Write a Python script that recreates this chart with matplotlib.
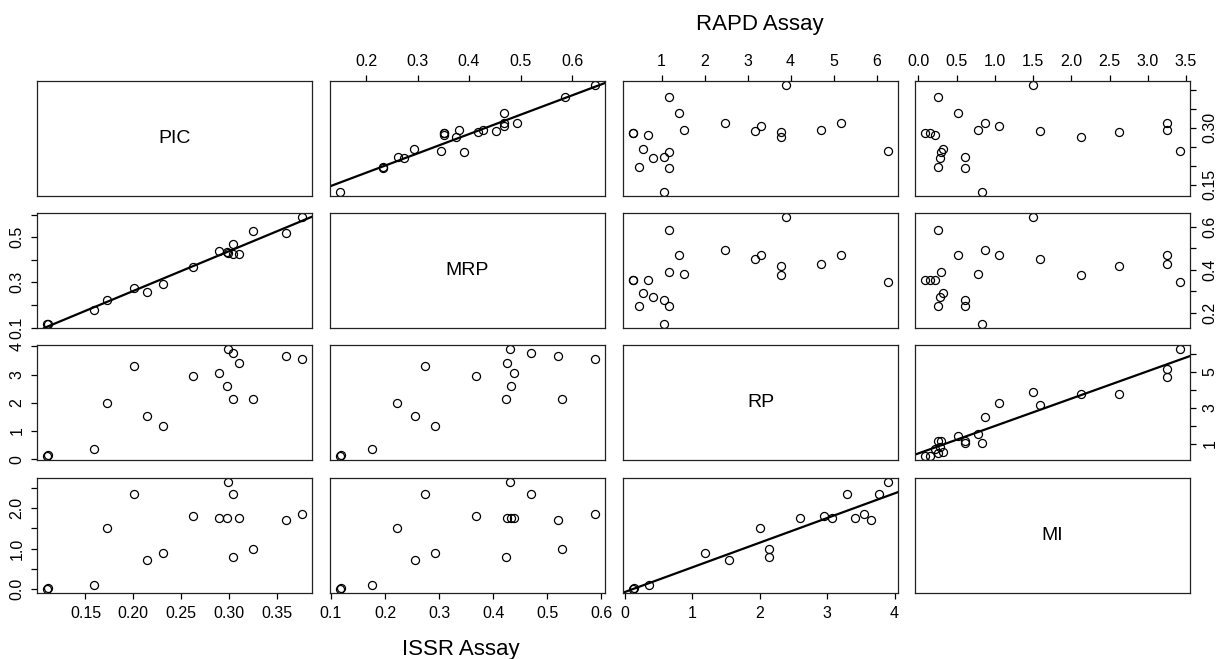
import numpy as np
import matplotlib
matplotlib.use('Agg')
import matplotlib.pyplot as plt

plt.rcParams['font.family'] = ['Liberation Sans', 'DejaVu Sans']

variables = ['PIC', 'MRP', 'RP', 'MI']

# ISSR assay, lower panels (17 primers)
issr_pic = [0.110, 0.111, 0.159, 0.172, 0.201, 0.214, 0.231, 0.262, 0.290,
            0.298, 0.299, 0.304, 0.304, 0.310, 0.325, 0.359, 0.376]
issr_mrp = [0.117, 0.118, 0.176, 0.222, 0.274, 0.256, 0.293, 0.368, 0.438,
            0.433, 0.432, 0.470, 0.424, 0.426, 0.528, 0.520, 0.588]
issr_rp = [0.12, 0.13, 0.36, 2.00, 3.30, 1.54, 1.19, 2.95, 3.07,
           2.59, 3.90, 3.77, 2.13, 3.42, 2.13, 3.65, 3.55]
issr_mi = [0.01, 0.02, 0.09, 1.51, 2.35, 0.72, 0.89, 1.81, 1.74,
           1.74, 2.63, 2.35, 0.80, 1.76, 1.00, 1.69, 1.86]

# RAPD assay, upper panels (22 primers)
rapd_pic = [0.413, 0.381, 0.339, 0.314, 0.314, 0.304, 0.294, 0.294, 0.291, 0.289, 0.286,
            0.286, 0.281, 0.276, 0.238, 0.243, 0.236, 0.221, 0.222, 0.196, 0.193, 0.131]
rapd_mrp = [0.644, 0.586, 0.468, 0.493, 0.468, 0.468, 0.381, 0.427, 0.452, 0.417, 0.351,
            0.351, 0.351, 0.374, 0.345, 0.293, 0.390, 0.273, 0.262, 0.233, 0.233, 0.150]
rapd_rp = [3.89, 1.17, 1.41, 2.47, 5.16, 3.30, 1.53, 4.71, 3.17, 3.77, 0.34,
           0.34, 0.69, 3.77, 6.26, 0.565, 1.17, 0.81, 1.05, 0.47, 1.17, 1.05]
rapd_mi = [1.50, 0.254, 0.511, 0.877, 3.25, 1.06, 0.777, 3.25, 1.593, 2.62, 0.088,
           0.145, 0.215, 2.13, 3.42, 0.323, 0.293, 0.276, 0.611, 0.254, 0.611, 0.834]

issr = {'PIC': issr_pic, 'MRP': issr_mrp, 'RP': issr_rp, 'MI': issr_mi}
rapd = {'PIC': rapd_pic, 'MRP': rapd_mrp, 'RP': rapd_rp, 'MI': rapd_mi}

# axis ticks (values, labels)
issr_bottom = {
    'PIC': ([0.15, 0.20, 0.25, 0.30, 0.35], ['0.15', '0.20', '0.25', '0.30', '0.35']),
    'MRP': ([0.1, 0.2, 0.3, 0.4, 0.5, 0.6], ['0.1', '0.2', '0.3', '0.4', '0.5', '0.6']),
    'RP': ([0, 1, 2, 3, 4], ['0', '1', '2', '3', '4']),
}
issr_left = {
    'MRP': ([0.1, 0.2, 0.3, 0.4, 0.5, 0.6], ['0.1', '', '0.3', '', '0.5', '']),
    'RP': ([0, 1, 2, 3, 4], ['0', '1', '2', '3', '4']),
    'MI': ([0.0, 0.5, 1.0, 1.5, 2.0, 2.5], ['0.0', '', '1.0', '', '2.0', '']),
}
rapd_top = {
    'MRP': ([0.2, 0.3, 0.4, 0.5, 0.6], ['0.2', '0.3', '0.4', '0.5', '0.6']),
    'RP': ([1, 2, 3, 4, 5, 6], ['1', '2', '3', '4', '5', '6']),
    'MI': ([0.0, 0.5, 1.0, 1.5, 2.0, 2.5, 3.0, 3.5],
           ['0.0', '0.5', '1.0', '1.5', '2.0', '2.5', '3.0', '3.5']),
}
rapd_right = {
    'PIC': ([0.15, 0.20, 0.25, 0.30, 0.35, 0.40], ['0.15', '', '', '0.30', '', '']),
    'MRP': ([0.2, 0.3, 0.4, 0.5, 0.6], ['0.2', '', '0.4', '', '0.6']),
    'RP': ([1, 2, 3, 4, 5, 6], ['1', '', '3', '', '5', '']),
}

# panels with a fitted line
fit_lower = [(1, 0), (3, 2)]
fit_upper = [(0, 1), (2, 3)]


def ext(v):
    lo, hi = min(v), max(v)
    d = 0.04 * (hi - lo)
    return lo - d, hi + d


W, H = 1220, 659
col_x = [37, 330, 623, 915]
col_w = 275
row_y = [81, 213, 345, 478]
row_h = 115

fig = plt.figure(figsize=(12.2, 6.59), dpi=100)
tick_fs = 11.5

for i in range(4):
    for j in range(4):
        ax = fig.add_axes([col_x[j] / W, 1 - (row_y[i] + row_h) / H, col_w / W, row_h / H])
        for s in ax.spines.values():
            s.set_linewidth(0.9)
            s.set_color('#222222')
        ax.tick_params(direction='out', length=4, width=0.9, labelsize=tick_fs, pad=5,
                       bottom=False, left=False, labelbottom=False, labelleft=False)
        if i == j:
            ax.set_xticks([])
            ax.set_yticks([])
            ax.text(0.5, 0.5, variables[i], transform=ax.transAxes, ha='center',
                    va='center', fontsize=14)
            continue
        if i > j:
            data = issr
        else:
            data = rapd
        xv = np.array(data[variables[j]])
        yv = np.array(data[variables[i]])
        ax.plot(xv, yv, 'o', mfc='none', mec='black', ms=5.8, mew=0.9)
        ax.set_xlim(ext(xv))
        ax.set_ylim(ext(yv))
        if (i, j) in fit_lower or (i, j) in fit_upper:
            m, b = np.polyfit(xv, yv, 1)
            ax.axline((0, b), slope=m, color='black', lw=1.6)
        ax.set_xticks([])
        ax.set_yticks([])
        if i == 3:
            t, l = issr_bottom[variables[j]]
            ax.set_xticks(t, l)
            ax.tick_params(axis='x', bottom=True, labelbottom=True)
        if i == 0:
            t, l = rapd_top[variables[j]]
            ax.set_xticks(t, l)
            ax.tick_params(axis='x', top=True, labeltop=True)
        if j == 0:
            t, l = issr_left[variables[i]]
            ax.set_yticks(t, l)
            ax.tick_params(axis='y', left=True, labelleft=True)
            plt.setp(ax.get_yticklabels(), rotation=90, va='center')
        if j == 3:
            t, l = rapd_right[variables[i]]
            ax.set_yticks(t, l)
            ax.tick_params(axis='y', right=True, labelright=True)
            plt.setp(ax.get_yticklabels(), rotation=90, va='center')

fig.text(760 / W, 1 - 30 / H, 'RAPD Assay', ha='center', va='baseline', fontsize=16)
fig.text(461 / W, 1 - 655 / H, 'ISSR Assay', ha='center', va='baseline', fontsize=16)

fig.savefig('out.png', dpi=100)
